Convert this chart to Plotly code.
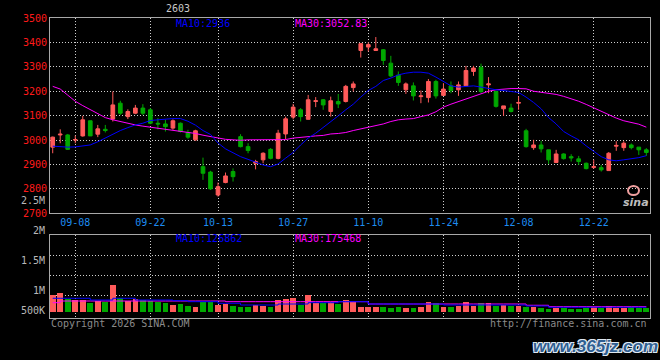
import plotly.graph_objects as go

# ---------------- data ----------------
dates = ["09-03","09-04","09-05","09-08","09-09","09-10","09-11","09-12","09-15","09-16",
         "09-17","09-18","09-19","09-22","09-23","09-24","09-25","09-26","09-29","09-30",
         "10-09","10-10","10-13","10-14","10-15","10-16","10-17","10-20","10-21","10-22",
         "10-23","10-24","10-27","10-28","10-29","10-30","10-31","11-03","11-04","11-05",
         "11-06","11-07","11-10","11-11","11-12","11-13","11-14","11-17","11-18","11-19",
         "11-20","11-21","11-24","11-25","11-26","11-27","11-28","12-01","12-02","12-03",
         "12-04","12-05","12-08","12-09","12-10","12-11","12-12","12-15","12-16","12-17",
         "12-18","12-19","12-22","12-23","12-24","12-25","12-26","12-29","12-30","12-31"]

opens  = [2971,3021,3021,3000,3017,3079,3024,3044,3086,3151,3096,3110,3131,3124,3069,3066,3049,3069,3031,3001,
          2891,2869,2775,2826,2871,3014,2973,2905,2919,2962,2925,3025,3094,3124,3085,3158,3165,3117,3158,3158,
          3215,3367,3381,3367,3370,3315,3266,3206,3222,3178,3174,3240,3183,3222,3206,3222,3281,3298,3226,3199,
          3128,3131,3151,3038,2969,2980,2960,2908,2943,2932,2923,2905,2888,2887,2875,2975,2969,2980,2971,2960]
highs  = [3014,3044,3025,3018,3099,3079,3062,3062,3199,3161,3126,3144,3147,3131,3090,3083,3085,3072,3042,3042,
          2928,2874,2826,2867,2884,3024,2987,2919,2950,2967,3042,3096,3148,3131,3185,3176,3168,3178,3189,3226,
          3240,3395,3400,3422,3373,3345,3281,3236,3236,3203,3250,3247,3233,3240,3240,3304,3304,3313,3258,3199,
          3140,3149,3179,3046,3001,2997,2960,2960,2946,2942,2935,2908,2919,2898,2951,2995,2995,2986,2971,2967]
lows   = [2946,2987,2960,2987,3014,3017,3012,3031,3076,3103,3086,3106,3103,3065,3044,3035,3042,3031,3005,2997,
          2837,2796,2768,2823,2830,2970,2946,2880,2905,2921,2921,3003,3085,3076,3083,3135,3124,3096,3131,3154,
          3199,3338,3363,3367,3308,3258,3222,3189,3162,3151,3154,3170,3181,3192,3181,3222,3263,3192,3192,3133,
          3099,3113,3124,2969,2960,2949,2902,2908,2920,2912,2898,2880,2882,2871,2875,2956,2956,2962,2939,2935]
closes = [3012,3024,2962,3002,3083,3017,3046,3039,3144,3110,3117,3131,3110,3069,3066,3055,3079,3035,3012,3038,
          2864,2800,2809,2853,2850,2973,2957,2912,2946,2925,3028,3087,3135,3096,3165,3161,3144,3161,3148,3220,
          3230,3395,3391,3374,3326,3263,3236,3230,3181,3181,3240,3181,3209,3203,3226,3285,3295,3199,3230,3138,
          3140,3117,3154,2973,2980,2964,2919,2943,2924,2927,2912,2883,2891,2878,2946,2978,2987,2969,2960,2949]

ma10 = [2975,2972,2971,2972,2975,2980,2993,3009,3025,3039,3051,3062,3069,3080,3083,3086,3088,3088,3077,3061,
        3039,3023,2988,2964,2949,2932,2921,2909,2898,2891,2902,2926,2949,2980,3008,3028,3051,3076,3099,3124,
        3147,3176,3203,3220,3244,3254,3267,3274,3278,3278,3274,3258,3240,3222,3217,3220,3222,3217,3211,3206,
        3203,3199,3195,3176,3154,3128,3092,3066,3035,3017,3001,2976,2953,2932,2919,2915,2919,2923,2928,2936]
ma30 = [3220,3209,3184,3159,3141,3124,3109,3092,3083,3075,3068,3062,3057,3053,3049,3044,3039,3036,3032,3027,
        3020,3014,3006,3003,3001,2999,3001,3001,3001,3001,3001,3002,3008,3012,3013,3017,3019,3025,3027,3031,
        3039,3045,3053,3058,3066,3076,3083,3086,3088,3096,3103,3116,3135,3147,3158,3169,3180,3190,3200,3206,
        3209,3211,3211,3210,3200,3196,3191,3187,3179,3170,3159,3146,3132,3118,3102,3090,3079,3072,3065,3052.83]

volumes = [425000,458000,318000,293000,293000,208000,275000,250000,675000,333000,
           275000,318000,293000,258000,233000,208000,175000,183000,150000,125000,
           233000,233000,168000,193000,133000,108000,108000,175000,150000,108000,
           300000,325000,350000,175000,425000,208000,208000,233000,193000,300000,
           250000,125000,108000,125000,125000,93000,108000,93000,93000,108000,
           233000,208000,125000,125000,150000,233000,150000,208000,208000,150000,
           175000,133000,150000,108000,108000,93000,68000,93000,83000,68000,
           68000,83000,108000,93000,150000,93000,83000,108000,93000,83000]
vol_ma10 = [318000]*5 + [275000]*3 + [318000]*3 + [275000]*5 + [258000]*2 + [233000]*4 + \
           [193000]*3 + [150000]*5 + [175000]*4 + [208000]*4 + [233000]*4 + [175000]*10 + \
           [150000]*11 + [125000]*3 + [93000]*14
vol_ma30 = [208000] + [250000]*22 + [233000]*19 + [175000]*21 + [143000]*3 + [108000]*14

price_ticks = [3500, 3400, 3300, 3200, 3100, 3000, 2900, 2800, 2700]
date_ticks = ["09-08", "09-22", "10-13", "10-27", "11-10", "11-24", "12-08", "12-22"]
vol_labels = ["2.5M", "2M", "1.5M", "1M", "500K"]
title_text = "2603"
vol_ma10_text = "MA10:126862"
vol_ma30_text = "MA30:175468"

# ---------------- styling ----------------
RED = "#ff5a5a"
GREEN = "#00a800"
BLUE = "#0000ff"
MAG = "#ff00ff"
GRID = "#cfcfcf"
FRAME = "#a8a8a8"
MONO = "DejaVu Sans Mono"

W, H = 660, 360
L, R, T, B = 50, 10, 18, 42
PW, PH = W - L - R, H - T - B


def px(xp):
    return (xp - L) / PW


def py(yp):
    return (H - B - yp) / PH


up = [c >= o for o, c in zip(opens, closes)]
vol_colors = [RED if u else GREEN for u in up]

fig = go.Figure()
fig.add_trace(go.Candlestick(
    x=dates, open=opens, high=highs, low=lows, close=closes,
    increasing=dict(line=dict(color=RED, width=1), fillcolor=RED),
    decreasing=dict(line=dict(color=GREEN, width=1), fillcolor=GREEN),
    whiskerwidth=0, xaxis="x", yaxis="y", showlegend=False, hoverinfo="skip"))
fig.add_trace(go.Scatter(x=dates, y=ma30, mode="lines", line=dict(color=MAG, width=1),
                         xaxis="x", yaxis="y", showlegend=False, hoverinfo="skip"))
fig.add_trace(go.Scatter(x=dates, y=ma10, mode="lines", line=dict(color=BLUE, width=1),
                         xaxis="x", yaxis="y", showlegend=False, hoverinfo="skip"))

fig.add_trace(go.Bar(x=dates, y=volumes, marker=dict(color=vol_colors, line=dict(width=0)),
                     width=0.76, xaxis="x2", yaxis="y2", showlegend=False, hoverinfo="skip"))
fig.add_trace(go.Scatter(x=dates, y=vol_ma30, mode="lines", line=dict(color=MAG, width=1, shape="hv"),
                         xaxis="x2", yaxis="y2", showlegend=False, hoverinfo="skip"))
fig.add_trace(go.Scatter(x=dates, y=vol_ma10, mode="lines", line=dict(color=BLUE, width=1, shape="hv"),
                         xaxis="x2", yaxis="y2", showlegend=False, hoverinfo="skip"))

xr = [-0.36, len(dates) - 1 + 0.49]
common_x = dict(type="category", categoryorder="array", categoryarray=dates, range=xr,
                tickmode="array", tickvals=date_ticks, ticktext=date_ticks,
                showgrid=True, gridcolor=GRID, griddash="1px,2px", gridwidth=1,
                showline=True, linecolor=FRAME, linewidth=1, mirror=True,
                zeroline=False, ticks="", fixedrange=True)

fig.update_layout(
    width=W, height=H,
    margin=dict(l=L, r=R, t=T, b=B),
    paper_bgcolor="black", plot_bgcolor="black",
    font=dict(family=MONO, size=10, color="#c0c0c0"),
    xaxis=dict(common_x, domain=[0, 1], anchor="y", rangeslider=dict(visible=False),
               tickfont=dict(family=MONO, size=10, color="#1e8cf0")),
    xaxis2=dict(common_x, domain=[0, 1], anchor="y2", showticklabels=False),
    yaxis=dict(domain=[py(213.3), 1], range=[2700, 3500], tickmode="array",
               tickvals=price_ticks, ticktext=[str(v) for v in price_ticks],
               tickfont=dict(family=MONO, size=10, color="#ff1a1a"),
               showgrid=True, gridcolor=GRID, griddash="1px,2px", gridwidth=1,
               showline=True, linecolor=FRAME, linewidth=1, mirror=True,
               zeroline=False, ticks="", fixedrange=True),
    yaxis2=dict(domain=[0, py(234.5)], range=[-175000, 1912500], tickmode="array",
                tickvals=[400000, 900000, 1400000], showticklabels=False,
                showgrid=True, gridcolor=GRID, griddash="1px,2px", gridwidth=1,
                showline=True, linecolor=FRAME, linewidth=1, mirror=True,
                zeroline=False, ticks="", fixedrange=True),
    bargap=0,
)

ann = []


def add_text(text, xp, yp, color, size=10, xanchor="left", family=MONO, **kw):
    ann.append(dict(text=text, x=px(xp), y=py(yp), xref="paper", yref="paper",
                    xanchor=xanchor, yanchor="middle", showarrow=False,
                    font=dict(family=family, size=size, color=color, **kw)))


add_text(title_text, 178, 9, "#c8c8c8", size=10, xanchor="center")
add_text(f"MA10:{ma10[-1]:g}", 174, 23, BLUE)
add_text(f"MA30:{ma30[-1]:g}", 293, 23, MAG)
add_text(vol_ma10_text, 174, 238.5, BLUE)
add_text(vol_ma30_text, 293, 238.5, MAG)

vol_label_y = [200.7, 230.7, 260.7, 290.7, 310.7]
for t, yy in zip(vol_labels, vol_label_y):
    add_text(t, 46.5, yy, "#b8b8b8", xanchor="right")

add_text("Copyright 2026 SINA.COM", 49, 323.5, "#8a8a8a")
add_text("http://finance.sina.com.cn", 649, 323.5, "#8a8a8a", xanchor="right")
add_text("www.365jz.com", 595, 346, "#2f5f92", size=17, xanchor="center",
         family="Liberation Sans", weight="bold", style="italic",
         shadow="1px 1px 0 #dfe8f2, -1px -1px 0 #dfe8f2, 1px -1px 0 #dfe8f2, -1px 1px 0 #dfe8f2")
add_text("sina", 636, 202, "#bdbdbd", size=11, xanchor="center",
         family="DejaVu Sans", weight="bold", style="italic")
fig.update_layout(annotations=ann)

fig.add_shape(type="circle", xref="paper", yref="paper",
              x0=px(628), x1=px(639), y0=py(195), y1=py(186),
              line=dict(color="#f0a0a0", width=2))

fig.write_html("out.html", config={"displayModeBar": False},
               post_script="document.body.style.margin='0';document.body.style.padding='0';")
